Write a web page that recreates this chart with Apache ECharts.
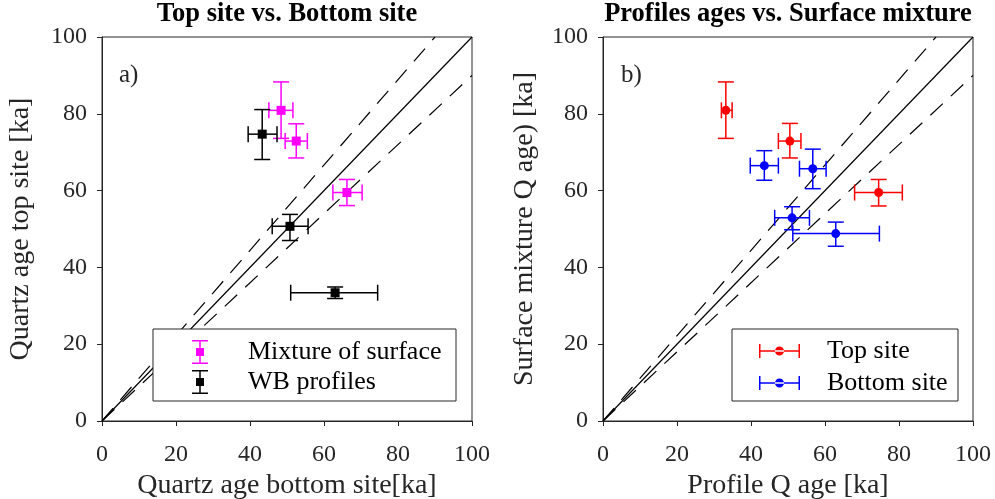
<!DOCTYPE html>
<html>
<head>
<meta charset="utf-8">
<script src="https://cdn.jsdelivr.net/npm/echarts@6/dist/echarts.min.js"></script>
<style>html,body{margin:0;padding:0;background:#fff}#c{width:995px;height:499px}</style>
</head>
<body>
<div id="c"></div>
<script>
// ---- Data ----
const mixX   = [48.4, 52.5, 66.2];
const mixY   = [80.9, 72.9, 59.5];
const mixXLo = [45.1, 49.5, 62.4];
const mixXHi = [51.6, 55.5, 70.3];
const mixYLo = [73.6, 68.5, 56.1];
const mixYHi = [88.3, 77.4, 62.9];

const wbX   = [43.3, 50.8, 63.0];
const wbY   = [74.7, 50.7, 33.4];
const wbXLo = [39.5, 46.0, 51.0];
const wbXHi = [47.3, 55.7, 74.5];
const wbYLo = [68.1, 47.0, 31.9];
const wbYHi = [81.1, 53.8, 34.9];

const topX   = [33.2, 50.5, 74.5];
const topY   = [80.9, 72.9, 59.5];
const topXLo = [32.0, 47.4, 68.0];
const topXHi = [34.9, 53.5, 80.9];
const topYLo = [73.6, 68.5, 56.0];
const topYHi = [88.3, 77.5, 62.9];

const botX   = [43.6, 56.7, 51.1, 62.9];
const botY   = [66.5, 65.7, 52.9, 48.8];
const botXLo = [39.8, 53.1, 46.4, 51.3];
const botXHi = [47.4, 60.3, 55.8, 74.7];
const botYLo = [62.7, 60.5, 49.8, 45.5];
const botYHi = [70.4, 70.8, 55.8, 51.8];

const oneToOne  = [[0, 0], [100, 100]];
const upperLine = [[0, 0], [90, 100]];
const lowerLine = [[0, 0], [100, 90]];

const axisMin = 0, axisMax = 100, axisStep = 20;

const titles = ['Top site vs. Bottom site', 'Profiles ages vs. Surface mixture'];
const xNames = ['Quartz age bottom site[ka]', 'Profile Q age [ka]'];
const yNames = ['Quartz age top site [ka]', 'Surface mixture Q age) [ka]'];
const legend1Names = ['Mixture of surface', 'WB profiles'];
const legend2Names = ['Top site', 'Bottom site'];

// ---- helpers ----
function rows(x, y, xl, xh, yl, yh) {
  return x.map((v, i) => [v, y[i], xl[i], xh[i], yl[i], yh[i]]);
}
const CAP = 8, LW = 1.5, MS = 9;
function errRender(marker) {
  return function (params, api) {
    const x = api.value(0), y = api.value(1);
    const c = api.coord([x, y]);
    const l = api.coord([api.value(2), y]);
    const r = api.coord([api.value(3), y]);
    const b = api.coord([x, api.value(4)]);
    const t = api.coord([x, api.value(5)]);
    const color = api.visual('color');
    const ls = { stroke: color, lineWidth: LW, fill: null };
    const line = (x1, y1, x2, y2) => ({ type: 'line', shape: { x1, y1, x2, y2 }, style: ls });
    const children = [
      line(l[0], c[1], r[0], c[1]),
      line(l[0], c[1] - CAP, l[0], c[1] + CAP),
      line(r[0], c[1] - CAP, r[0], c[1] + CAP),
      line(c[0], t[1], c[0], b[1]),
      line(c[0] - CAP, t[1], c[0] + CAP, t[1]),
      line(c[0] - CAP, b[1], c[0] + CAP, b[1])
    ];
    if (marker === 'square') {
      children.push({ type: 'rect', shape: { x: c[0] - MS / 2, y: c[1] - MS / 2, width: MS, height: MS }, style: { fill: color } });
    } else {
      children.push({ type: 'circle', shape: { cx: c[0], cy: c[1], r: MS / 2 }, style: { fill: color } });
    }
    return { type: 'group', children };
  };
}
function errSeries(name, data, color, marker, idx) {
  return {
    type: 'custom', name, xAxisIndex: idx, yAxisIndex: idx,
    renderItem: errRender(marker), data,
    encode: { x: [0, 2, 3], y: [1, 4, 5] },
    itemStyle: { color }, z: 5, clip: false
  };
}
function refLine(data, idx, dashed) {
  return {
    type: 'line', data, xAxisIndex: idx, yAxisIndex: idx, showSymbol: false, silent: true,
    lineStyle: { color: '#000', width: 1.2, type: dashed ? [17, 11] : 'solid' }, z: 3
  };
}

const FONT = 'Liberation Serif';
const AX = '#262626';
const NAME_SIZE = 28;
function xAxis(idx) {
  return {
    type: 'value', gridIndex: idx, min: axisMin, max: axisMax, interval: axisStep,
    name: xNames[idx], nameLocation: 'middle', nameGap: 47,
    nameTextStyle: { fontFamily: FONT, fontSize: NAME_SIZE, color: AX },
    axisLine: { show: true, lineStyle: { color: AX, width: 1 } },
    axisTick: { show: true, inside: false, length: 5, lineStyle: { color: AX } },
    axisLabel: { fontFamily: FONT, fontSize: 24, color: AX, margin: 22 },
    splitLine: { show: false }
  };
}
function yAxis(idx) {
  return {
    type: 'value', gridIndex: idx, min: axisMin, max: axisMax, interval: axisStep,
    name: yNames[idx], nameLocation: 'middle', nameGap: idx === 0 ? 67 : 64,
    nameTextStyle: { fontFamily: FONT, fontSize: NAME_SIZE, color: AX },
    axisLine: { show: true, lineStyle: { color: AX, width: 1 } },
    axisTick: { show: true, inside: false, length: 5, lineStyle: { color: AX } },
    axisLabel: { fontFamily: FONT, fontSize: 24, color: AX, margin: 15 },
    splitLine: { show: false }
  };
}

// measure legend text to size legend boxes
const LEG_SIZE = 26;
const mctx = document.createElement('canvas').getContext('2d');
mctx.font = LEG_SIZE + 'px "Liberation Serif"';
const tw = names => Math.max(...names.map(n => mctx.measureText(n).width));
// left legend: box 153..456, icon centred at 200, text starts at 248
const L1 = { left: 153, w: 303, iw: 16, ih: 24, padL: 39, sp: 35 };
// right legend: box 732..958, icon 759..800, text starts at 827
const L2 = { left: 732, w: 226, iw: 41, ih: 14, padL: 27, sp: 22 };
const padR1 = Math.max(2, L1.w - L1.padL - L1.iw - 5 - L1.sp - tw(legend1Names));
const padR2 = Math.max(2, L2.w - L2.padL - L2.iw - 5 - L2.sp - tw(legend2Names));

const vIcon = 'path://M0,0H16V1.5H0Z M7.25,0H8.75V24H7.25Z M0,22.5H16V24H0Z M4,8H12V16H4Z';
const hIcon = 'path://M0,0H1.5V14H0Z M0,6.25H41V7.75H0Z M39.5,0H41V14H39.5Z M16,7A4.5,4.5 0 1,0 25,7A4.5,4.5 0 1,0 16,7Z';

function legendTextStyle(sp) {
  return {
    fontFamily: FONT, fontSize: LEG_SIZE, color: '#000',
    rich: { sp: { width: sp, fontSize: LEG_SIZE }, t: { fontFamily: FONT, fontSize: LEG_SIZE, color: '#000' } }
  };
}
const gridCommon = { top: 37, width: 370, height: 384, show: true, borderColor: AX, borderWidth: 1,
  backgroundColor: 'transparent', containLabel: false, outerBoundsMode: 'none' };
const option = {
  animation: false,
  backgroundColor: '#fff',
  title: [
    { text: titles[0], left: 287, top: 1, textAlign: 'center', padding: 0,
      textStyle: { fontFamily: FONT, fontWeight: 'bold', fontSize: 26.5, color: '#000' } },
    { text: titles[1], left: 788, top: 1, textAlign: 'center', padding: 0,
      textStyle: { fontFamily: FONT, fontWeight: 'bold', fontSize: 26.5, color: '#000' } },
    { text: 'a)', left: 119, top: 63, padding: 0, textStyle: { fontFamily: FONT, fontWeight: 'normal', fontSize: 25, color: AX } },
    { text: 'b)', left: 621, top: 63, padding: 0, textStyle: { fontFamily: FONT, fontWeight: 'normal', fontSize: 25, color: AX } }
  ],
  grid: [
    Object.assign({ left: 102 }, gridCommon),
    Object.assign({ left: 603 }, gridCommon)
  ],
  xAxis: [xAxis(0), xAxis(1)],
  yAxis: [yAxis(0), yAxis(1)],
  legend: [
    { orient: 'vertical', left: L1.left, top: 329, selectedMode: false,
      itemWidth: L1.iw, itemHeight: L1.ih, itemGap: 4,
      padding: [10, padR1, 6, L1.padL], backgroundColor: '#fff', borderColor: AX, borderWidth: 1,
      formatter: '{sp|}{t|{name}}', textStyle: legendTextStyle(L1.sp),
      data: legend1Names.map(n => ({ name: n, icon: vIcon })) },
    { orient: 'vertical', left: L2.left, top: 329, selectedMode: false,
      itemWidth: L2.iw, itemHeight: L2.ih, itemGap: 6,
      padding: [9, padR2, 5, L2.padL], backgroundColor: '#fff', borderColor: AX, borderWidth: 1,
      formatter: '{sp|}{t|{name}}', textStyle: legendTextStyle(L2.sp),
      data: legend2Names.map(n => ({ name: n, icon: hIcon })) }
  ],
  series: [
    refLine(oneToOne, 0, false), refLine(upperLine, 0, true), refLine(lowerLine, 0, true),
    refLine(oneToOne, 1, false), refLine(upperLine, 1, true), refLine(lowerLine, 1, true),
    errSeries(legend1Names[0], rows(mixX, mixY, mixXLo, mixXHi, mixYLo, mixYHi), '#ff00ff', 'square', 0),
    errSeries(legend1Names[1], rows(wbX, wbY, wbXLo, wbXHi, wbYLo, wbYHi), '#000000', 'square', 0),
    errSeries(legend2Names[0], rows(topX, topY, topXLo, topXHi, topYLo, topYHi), '#ff0000', 'circle', 1),
    errSeries(legend2Names[1], rows(botX, botY, botXLo, botXHi, botYLo, botYHi), '#0000ff', 'circle', 1)
  ]
};
const chart = echarts.init(document.getElementById('c'), null, { renderer: 'canvas' });
chart.setOption(option);
</script>
</body>
</html>
